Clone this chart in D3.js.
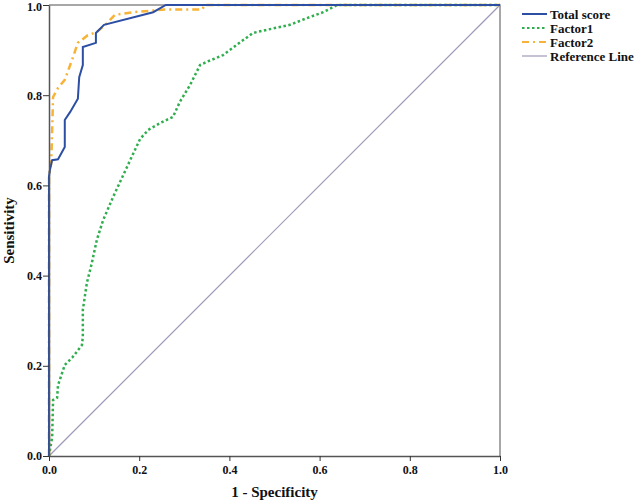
<!DOCTYPE html>
<html>
<head>
<meta charset="utf-8">
<script src="https://cdn.jsdelivr.net/npm/d3@7"></script>
<style>
  body { margin: 0; background: #fff; }
  svg text { font-family: "Liberation Serif", "Times New Roman", serif; font-weight: bold; }
</style>
</head>
<body>
<div id="roc"></div>
<script>
const margin = {top: 5, right: 143, bottom: 48, left: 49};
const width = 643;
const height = 504;

// ROC curve points: [1 - specificity, sensitivity]
const totalScore = [
  [0, 0], [0, 0.62], [0.002, 0.634], [0.007, 0.656], [0.02, 0.658], [0.035, 0.685],
  [0.035, 0.745], [0.047, 0.763], [0.064, 0.792], [0.067, 0.84], [0.075, 0.867],
  [0.075, 0.907], [0.104, 0.916], [0.104, 0.938], [0.122, 0.956], [0.231, 0.984],
  [0.259, 1.0], [1, 1]
];
const factor1 = [
  [0, 0], [0.007, 0.042], [0.009, 0.124], [0.018, 0.129], [0.02, 0.157], [0.035, 0.202],
  [0.053, 0.22], [0.073, 0.246], [0.075, 0.264], [0.075, 0.324], [0.084, 0.384],
  [0.095, 0.428], [0.106, 0.479], [0.12, 0.523], [0.142, 0.574], [0.173, 0.641],
  [0.202, 0.703], [0.22, 0.723], [0.246, 0.738], [0.275, 0.752], [0.29, 0.785],
  [0.313, 0.823], [0.335, 0.867], [0.35, 0.874], [0.386, 0.889], [0.452, 0.938],
  [0.483, 0.945], [0.534, 0.956], [0.572, 0.971], [0.608, 0.984], [0.639, 1.0], [1, 1]
];
const factor2 = [
  [0, 0], [0, 0.62], [0.005, 0.65], [0.009, 0.796], [0.02, 0.816], [0.035, 0.834],
  [0.051, 0.878], [0.064, 0.916], [0.086, 0.933], [0.106, 0.94], [0.129, 0.96],
  [0.146, 0.978], [0.186, 0.984], [0.257, 0.99], [0.34, 0.99], [0.345, 1.0], [1, 1]
];
const referenceLine = [[0, 0], [1, 1]];

const seriesNames = ['Total score', 'Factor1', 'Factor2', 'Reference Line'];
const seriesData = [totalScore, factor1, factor2, referenceLine];
const seriesColors = ['#2c4fa3', '#2fae4e', '#f7b337', '#9e99b8'];
const seriesDash = [null, '2.5,2.5', '7,4,2,4', null];
const seriesWidth = [2, 2.5, 2.5, 1.2];
const ticks = [0, 0.2, 0.4, 0.6, 0.8, 1.0];

const svg = d3.select('#roc')
  .append('svg')
  .attr('width', width)
  .attr('height', height);

const x = d3.scaleLinear()
  .domain([0, 1])
  .range([margin.left, width - margin.right]);

const y = d3.scaleLinear()
  .domain([0, 1])
  .range([height - margin.bottom, margin.top]);

// frame (top and right)
svg.append('path')
  .attr('d', `M${x(0)},${y(1)}H${x(1)}V${y(0)}`)
  .attr('fill', 'none')
  .attr('stroke', '#8a8a8a')
  .attr('stroke-width', 1.5);

const line = d3.line()
  .x(d => x(d[0]))
  .y(d => y(d[1]));

// draw in reverse so the total score sits on top
const order = [3, 1, 2, 0];
order.forEach(i => {
  svg.append('path')
    .datum(seriesData[i])
    .attr('fill', 'none')
    .attr('stroke', seriesColors[i])
    .attr('stroke-width', seriesWidth[i])
    .attr('stroke-dasharray', seriesDash[i])
    .attr('d', line);
});

// axes
svg.append('g')
  .attr('transform', `translate(0,${y(0)})`)
  .call(d3.axisBottom(x).tickValues(ticks).tickFormat(d3.format('.1f')).tickSize(5).tickSizeOuter(0))
  .call(g => g.select('.domain').attr('stroke', '#555').attr('stroke-width', 1.5))
  .call(g => g.selectAll('.tick line').attr('stroke', '#333'))
  .call(g => g.selectAll('.tick text').attr('font-size', 12).attr('fill', '#111').attr('dy', '0.85em'));

svg.append('g')
  .attr('transform', `translate(${x(0)},0)`)
  .call(d3.axisLeft(y).tickValues(ticks).tickFormat(d3.format('.1f')).tickSize(6).tickSizeOuter(0))
  .call(g => g.select('.domain').attr('stroke', '#555').attr('stroke-width', 1.5))
  .call(g => g.selectAll('.tick line').attr('stroke', '#333'))
  .call(g => g.selectAll('.tick text').attr('font-size', 12).attr('fill', '#111').attr('x', -7)
    .attr('y', d => d === 1 ? 2 : 0));

// axis titles
svg.append('text')
  .attr('x', (x(0) + x(1)) / 2)
  .attr('y', 497)
  .attr('text-anchor', 'middle')
  .attr('font-size', 15)
  .attr('fill', '#111')
  .text('1 - Specificity');

svg.append('text')
  .attr('transform', `translate(14,${(y(0) + y(1)) / 2}) rotate(-90)`)
  .attr('text-anchor', 'middle')
  .attr('font-size', 15)
  .attr('fill', '#111')
  .text('Sensitivity');

// legend
const legend = svg.append('g')
  .selectAll('g')
  .data(seriesNames)
  .join('g')
  .attr('transform', (d, i) => `translate(522,${14 + i * 14})`);

legend.append('line')
  .attr('x1', 0)
  .attr('x2', 25)
  .attr('stroke', (d, i) => seriesColors[i])
  .attr('stroke-width', (d, i) => Math.min(seriesWidth[i], 2))
  .attr('stroke-dasharray', (d, i) => seriesDash[i]);

legend.append('text')
  .attr('x', 28)
  .attr('dy', '0.35em')
  .attr('font-size', 13)
  .attr('fill', '#111')
  .text(d => d);
</script>
</body>
</html>
